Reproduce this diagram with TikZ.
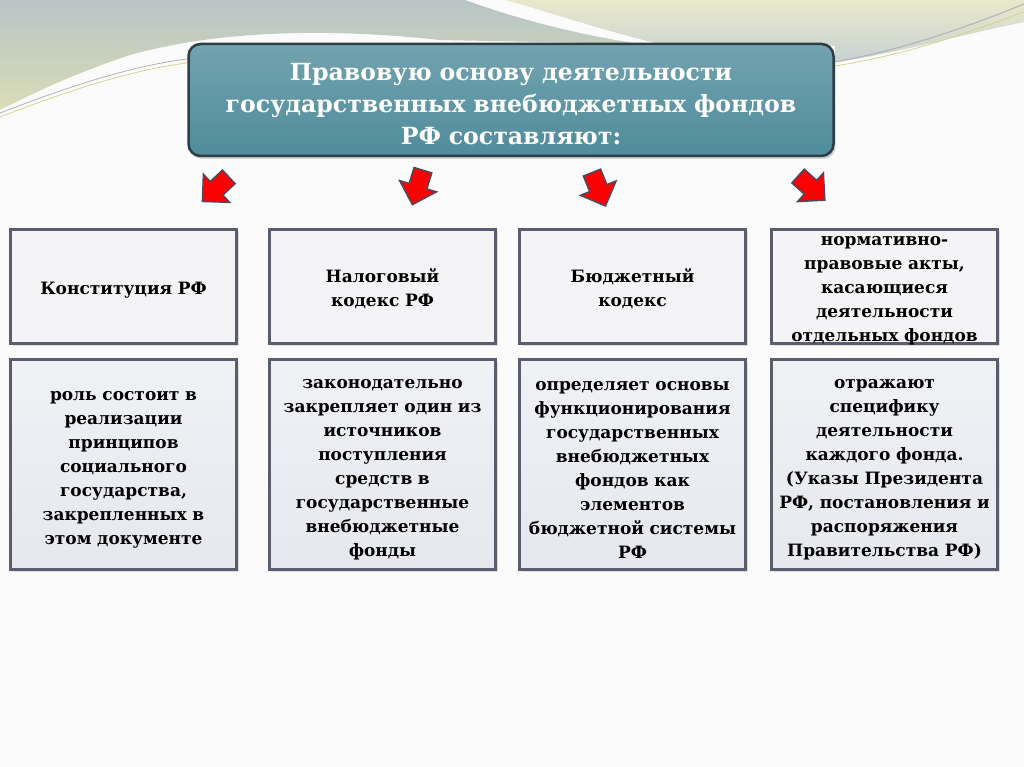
\documentclass[tikz,border=0pt]{standalone}
\usepackage{fontspec}
\setmainfont{DejaVu Serif}
\usetikzlibrary{shapes.arrows,shadows}
\definecolor{headfill}{HTML}{4F8C9B}
\definecolor{headline}{HTML}{2E3E46}
\definecolor{boxline}{HTML}{5A5D6E}
\definecolor{lawfill}{HTML}{F4F4F6}
\definecolor{notefill}{HTML}{E6E8EE}
\definecolor{arrline}{HTML}{4E4A5E}
\definecolor{decA}{HTML}{B8C4C6}
\definecolor{decB}{HTML}{DADDB6}
\definecolor{decC}{HTML}{E9E8CB}
\definecolor{decD}{HTML}{C8D2D3}
\tikzset{
  treebox/.style = {align=center, inner sep=0pt, text centered, font=\bfseries\fontsize{17}{24}\selectfont},
  % head box: teal rounded box, white text
  head_box/.style = {treebox, rounded corners=12pt, draw=headline, line width=2.5pt, top color=headfill!80!white, bottom color=headfill,
                     minimum width=645pt, minimum height=112pt, text width=630pt, text height=37pt, text depth=75pt,
                     text=white, font=\bfseries\fontsize{23.6}{32}\selectfont,
                     drop shadow={shadow xshift=2pt, shadow yshift=-3pt, opacity=0.35}},
  law_box/.style = {treebox, draw=boxline, line width=2.5pt, fill=lawfill, minimum width=226pt, minimum height=114pt, text width=212pt,
                    execute at begin node={\rule{0pt}{19pt}},
                    drop shadow={shadow xshift=2pt, shadow yshift=-2pt, opacity=0.25}},
  % full box: text runs over the lower edge
  full_box/.style = {law_box, execute at begin node={}, text height=16pt, text depth=98pt},
  note_box/.style = {law_box, top color=notefill!60!white, bottom color=notefill, minimum height=210pt},
  red_arr/.style = {single arrow, fill=red, draw=arrline, line width=1.5pt, inner sep=8.5pt, minimum height=36pt,
                    single arrow head extend=10pt, single arrow tip angle=90}
%   lines of top decor are drawn directly
}

\begin{document}
\begin{tikzpicture}[x=1pt, y=-1pt]
    \useasboundingbox (0,0) rectangle (1024,767);
    % background and top decor:
    \fill[white!97!gray] (0,0) rectangle (1024,767);
    \shade[top color=decA, bottom color=decB] (0,0) -- (465,0) .. controls (520,20) and (580,35) .. (640,44)
      -- (440,40) .. controls (330,28) and (220,30) .. (130,55) .. controls (70,75) and (30,95) .. (0,110) -- cycle;
    \shade[top color=decC, bottom color=decD] (505,0) -- (1024,0) -- (1024,22) .. controls (960,35) and (890,55) .. (835,62)
      -- (835,46) -- (660,44) .. controls (600,30) and (550,12) .. (505,0) -- cycle;
    \draw[gray!60, line width=0.8pt] (0,113) .. controls (60,90) and (130,65) .. (195,58);
    \draw[yellow!50!gray!70, line width=0.8pt] (0,117) .. controls (60,94) and (130,69) .. (195,62);
    \draw[gray!60, line width=1pt] (1024,4) .. controls (960,30) and (900,50) .. (835,62);
    \draw[yellow!50!gray!70, line width=0.8pt] (1024,12) .. controls (970,32) and (910,54) .. (835,66);

    % Head:
    \node [head_box] (head) at (511,100) {Правовую основу деятельности\\государственных внебюджетных фондов\\РФ составляют:};

    % Arrows:
    \node [red_arr, rotate=-137] (arr_1) at (219,186) {};
    \node [red_arr, rotate=-107] (arr_2) at (419,183) {};
    \node [red_arr, rotate=-68] (arr_3) at (597,185) {};
    \node [red_arr, rotate=-42] (arr_4) at (808,185) {};

    % Row 1 - laws:
    \node [law_box] (law_1) at (123.5,286.5) {Конституция РФ};
    \node [law_box] (law_2) at (382.5,286.5) {Налоговый\\кодекс РФ};
    \node [law_box] (law_3) at (632.5,286.5) {Бюджетный\\кодекс};
    \node [full_box] (law_4) at (884.5,286.5) {нормативно-\\правовые акты,\\касающиеся\\деятельности\\отдельных фондов};

    % Row 2 - notes:
    \node [note_box] (note_1) at (123.5,464.5) {роль состоит в\\реализации\\принципов\\социального\\государства,\\закрепленных в\\этом документе};
    \node [note_box] (note_2) at (382.5,464.5) {законодательно\\закрепляет один из\\источников\\поступления\\средств в\\государственные\\внебюджетные\\фонды};
    \node [note_box] (note_3) at (632.5,464.5) {определяет основы\\функционирования\\государственных\\внебюджетных\\фондов как\\элементов\\бюджетной системы\\РФ};
    \node [note_box] (note_4) at (884.5,464.5) {отражают\\специфику\\деятельности\\каждого фонда.\\(Указы Президента\\РФ, постановления и\\распоряжения\\Правительства РФ)};
\end{tikzpicture}
\end{document}
